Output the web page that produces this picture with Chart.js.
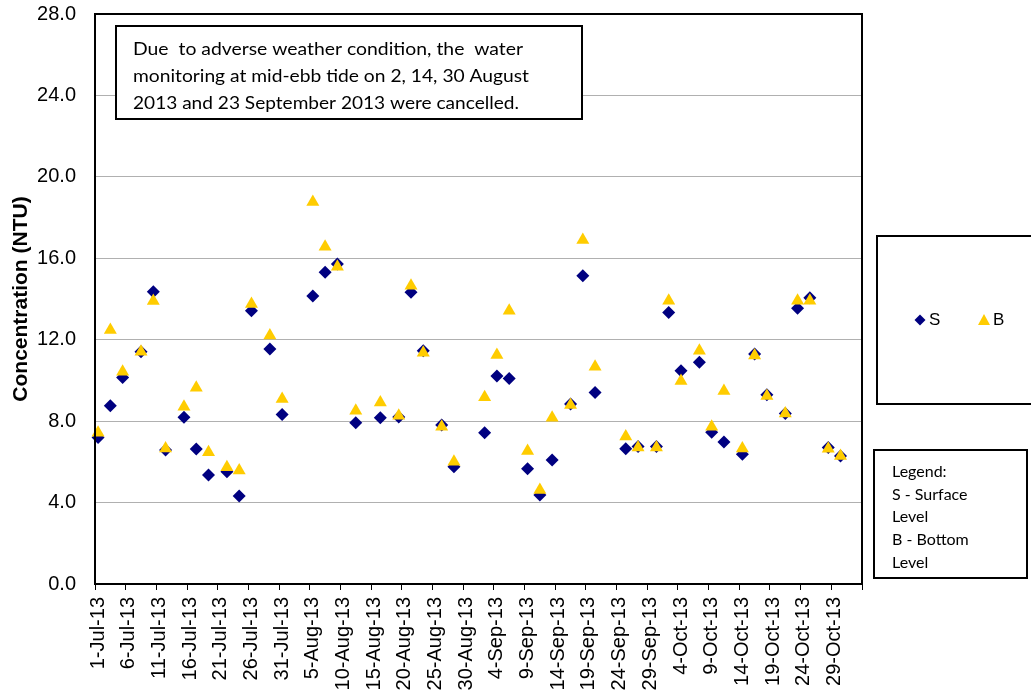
<!DOCTYPE html>
<html>
<head>
<meta charset="utf-8">
<script src="https://cdn.jsdelivr.net/npm/chart.js@4.4.1/dist/chart.umd.min.js"></script>
<style>
  html, body { margin: 0; padding: 0; background: #fff; }
  #wrap { width: 1031px; height: 693px; }
</style>
</head>
<body>
<div id="wrap"><canvas id="turbidityChart" width="1031" height="693"></canvas></div>
<script>
// monitoring dates (mid-ebb tide)
var sampleDates = [
    '1-Jul-13', '3-Jul-13', '5-Jul-13', '8-Jul-13', '10-Jul-13', '12-Jul-13',
    '15-Jul-13', '17-Jul-13', '19-Jul-13', '22-Jul-13', '24-Jul-13', '26-Jul-13',
    '29-Jul-13', '31-Jul-13', '5-Aug-13', '7-Aug-13', '9-Aug-13', '12-Aug-13',
    '16-Aug-13', '19-Aug-13', '21-Aug-13', '23-Aug-13', '26-Aug-13', '28-Aug-13',
    '2-Sep-13', '4-Sep-13', '6-Sep-13', '9-Sep-13', '11-Sep-13', '13-Sep-13',
    '16-Sep-13', '18-Sep-13', '20-Sep-13', '25-Sep-13', '27-Sep-13', '30-Sep-13',
    '2-Oct-13', '4-Oct-13', '7-Oct-13', '9-Oct-13', '11-Oct-13', '14-Oct-13',
    '16-Oct-13', '18-Oct-13', '21-Oct-13', '23-Oct-13', '25-Oct-13', '28-Oct-13',
    '30-Oct-13'
];

// S - surface level (NTU)
var surfaceValues = [
    7.20, 8.76, 10.15, 11.41, 14.36, 6.58,
    8.19, 6.63, 5.35, 5.52, 4.32, 13.42,
    11.54, 8.33, 14.15, 15.31, 15.72, 7.92,
    8.17, 8.20, 14.33, 11.46, 7.81, 5.76,
    7.43, 10.22, 10.10, 5.66, 4.37, 6.09,
    8.84, 15.14, 9.41, 6.65, 6.75, 6.75,
    13.34, 10.48, 10.89, 7.45, 6.97, 6.37,
    11.30, 9.30, 8.38, 13.54, 14.06, 6.70,
    6.29
];

// B - bottom level (NTU)
var bottomValues = [
    7.43, 12.48, 10.43, 11.41, 13.90, 6.66,
    8.71, 9.64, 6.47, 5.73, 5.57, 13.75,
    12.21, 9.09, 18.76, 16.57, 15.59, 8.51,
    8.92, 8.27, 14.65, 11.36, 7.73, 6.01,
    9.17, 11.25, 13.42, 6.53, 4.62, 8.17,
    8.79, 16.90, 10.67, 7.24, 6.70, 6.71,
    13.92, 9.97, 11.46, 7.73, 9.48, 6.66,
    11.23, 9.23, 8.38, 13.92, 13.92, 6.65,
    6.29
];

var yTicks = [0, 4, 8, 12, 16, 20, 24, 28];

var noteLines = [
    'Due  to adverse weather condition, the  water',
    'monitoring at mid-ebb tide on 2, 14, 30 August',
    '2013 and 23 September 2013 were cancelled.'
];
var legendNoteLines = ['Legend:', 'S - Surface', 'Level', 'B - Bottom', 'Level'];

// daily category axis 1-Jul-13 .. 2-Nov-13
var monthNames = ['Jan', 'Feb', 'Mar', 'Apr', 'May', 'Jun', 'Jul', 'Aug', 'Sep', 'Oct', 'Nov', 'Dec'];
var categories = [];
var d = new Date(2013, 6, 1);
while (d <= new Date(2013, 10, 2)) {
    categories.push(d.getDate() + '-' + monthNames[d.getMonth()] + '-13');
    d.setDate(d.getDate() + 1);
}

var surfaceColor = '#000080';
var bottomColor = '#FFCC00';

function toPoints(values) {
    return values.map(function (v, i) { return { x: sampleDates[i], y: v }; });
}

var boxesPlugin = {
    id: 'boxes',
    afterDraw: function (chart) {
        var ctx = chart.ctx;
        var a = chart.chartArea;
        ctx.save();
        // plot frame
        ctx.strokeStyle = '#000';
        ctx.lineWidth = 2;
        ctx.strokeRect(a.left, a.top, a.right - a.left, a.bottom - a.top);

        // note box
        ctx.fillStyle = '#fff';
        ctx.fillRect(116, 26, 466, 93);
        ctx.strokeRect(116, 26, 466, 93);
        ctx.fillStyle = '#000';
        ctx.font = '17px Lato';
        ctx.textBaseline = 'alphabetic';
        ctx.textAlign = 'left';
        var widths = [390, 396, 386];
        noteLines.forEach(function (line, i) {
            var w = ctx.measureText(line).width;
            ctx.save();
            ctx.translate(133, 55 + i * 27);
            ctx.scale(widths[i] / w, 1);
            ctx.fillText(line, 0, 0);
            ctx.restore();
        });

        // series legend box
        ctx.strokeRect(877, 236, 160, 168);
        ctx.fillStyle = surfaceColor;
        ctx.beginPath();
        ctx.moveTo(920, 314.5); ctx.lineTo(925.5, 320); ctx.lineTo(920, 325.5); ctx.lineTo(914.5, 320);
        ctx.closePath(); ctx.fill();
        ctx.fillStyle = bottomColor;
        ctx.beginPath();
        ctx.moveTo(984, 314); ctx.lineTo(990, 325); ctx.lineTo(978, 325);
        ctx.closePath(); ctx.fill();
        ctx.fillStyle = '#000';
        ctx.font = '17px "Liberation Sans", Arial';
        ctx.textBaseline = 'middle';
        ctx.fillText('S', 929, 320);
        ctx.fillText('B', 993, 320);

        // text legend box
        ctx.strokeRect(874, 450, 153, 128);
        ctx.font = '16px Lato';
        ctx.textBaseline = 'alphabetic';
        legendNoteLines.forEach(function (line, i) {
            ctx.fillText(line, 892, 477 + i * 22.7);
        });
        ctx.restore();
    }
};

var turbidityChart = new Chart(document.getElementById('turbidityChart'), {
    type: 'scatter',
    data: {
        datasets: [{
            label: 'S',
            data: toPoints(surfaceValues),
            pointStyle: 'rectRot',
            pointRadius: 6.5,
            pointBackgroundColor: surfaceColor,
            pointBorderColor: surfaceColor,
            pointBorderWidth: 0,
            order: 2
        }, {
            label: 'B',
            data: toPoints(bottomValues),
            pointStyle: 'triangle',
            pointRadius: 7.5,
            pointBackgroundColor: bottomColor,
            pointBorderColor: bottomColor,
            pointBorderWidth: 0,
            order: 1
        }]
    },
    options: {
        responsive: false,
        animation: false,
        layout: { padding: { top: 14, right: 169, left: 0, bottom: 0 } },
        plugins: {
            legend: { display: false },
            tooltip: { enabled: false }
        },
        scales: {
            x: {
                type: 'category',
                labels: categories,
                offset: true,
                afterFit: function (scale) {
                    scale.height = 109;
                    scale.paddingLeft = 0;
                    scale.paddingRight = 0;
                },
                grid: {
                    offset: true,
                    drawOnChartArea: false,
                    drawTicks: true,
                    tickLength: 6,
                    lineWidth: 1,
                    color: function (c) {
                        return (c.index === undefined || c.index % 5 === 0) ? '#000' : 'rgba(0,0,0,0)';
                    }
                },
                border: { color: '#000', width: 2 },
                ticks: {
                    autoSkip: false,
                    minRotation: 90,
                    maxRotation: 90,
                    padding: 7,
                    color: '#000',
                    font: { family: '"Liberation Sans", Arial', size: 20 },
                    callback: function (val, i) {
                        return i % 5 === 0 ? this.getLabelForValue(val) : '';
                    }
                }
            },
            y: {
                min: 0,
                max: 28,
                afterFit: function (scale) {
                    scale.width = 95;
                    scale.paddingTop = 0;
                    scale.paddingBottom = 0;
                },
                afterBuildTicks: function (scale) {
                    scale.ticks = yTicks.map(function (v) { return { value: v }; });
                },
                grid: { color: '#b0b0b0', lineWidth: 1, drawTicks: false },
                border: { color: '#000', width: 2 },
                title: {
                    display: true,
                    text: 'Concentration (NTU)',
                    color: '#000',
                    padding: { top: 9, bottom: 0 },
                    font: { family: '"Liberation Sans", Arial', size: 21, weight: 'bold' }
                },
                ticks: {
                    padding: 19,
                    color: '#000',
                    font: { family: '"Liberation Sans", Arial', size: 20 },
                    callback: function (v) { return Number(v).toFixed(1); }
                }
            }
        }
    },
    plugins: [boxesPlugin]
});
</script>
</body>
</html>
